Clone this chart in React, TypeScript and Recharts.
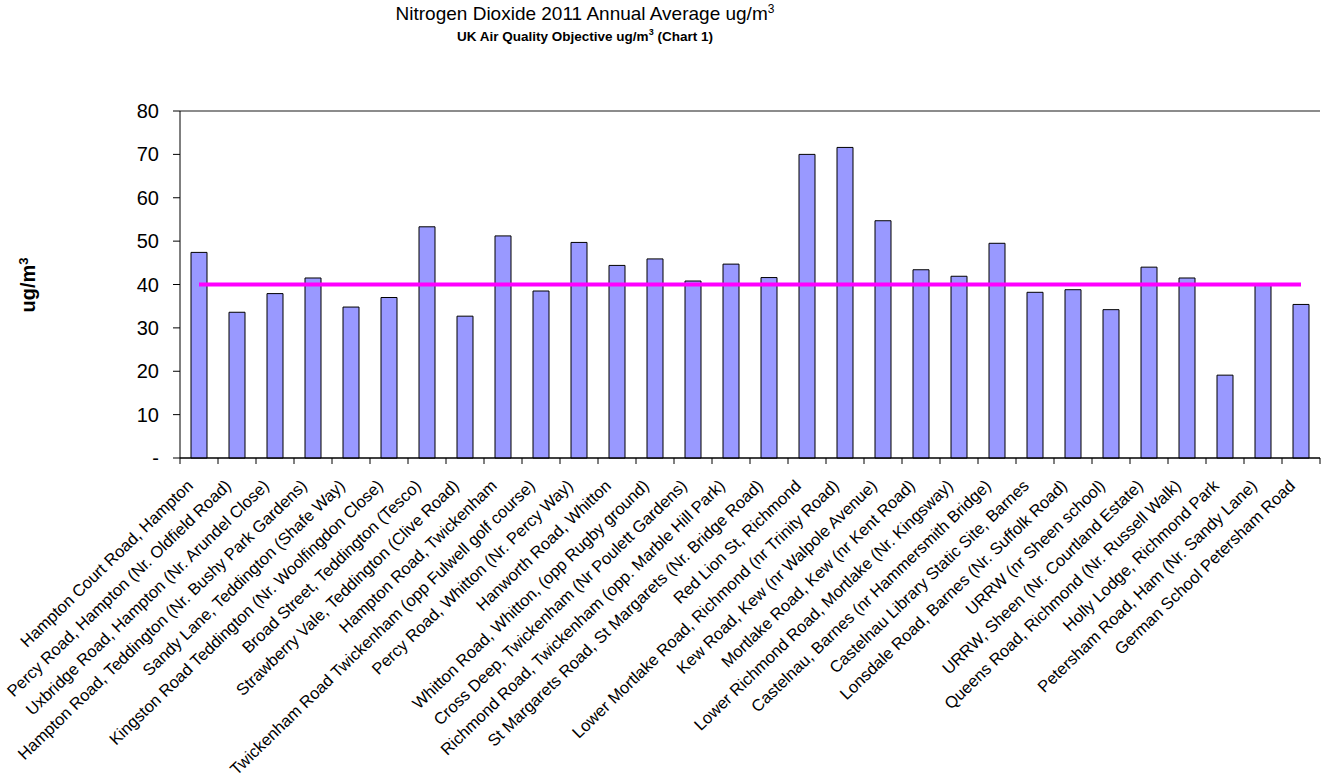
import React from "react"
import { Bar, CartesianGrid, ComposedChart, Line, ReferenceLine, XAxis, YAxis } from "recharts"

// monitoring sites, left to right
const sites = [
  "Hampton Court Road, Hampton",
  "Percy Road, Hampton (Nr. Oldfield Road)",
  "Uxbridge Road, Hampton (Nr. Arundel Close)",
  "Hampton Road, Teddington (Nr. Bushy Park Gardens)",
  "Sandy Lane, Teddington (Shafe Way)",
  "Kingston Road Teddington (Nr. Woolfingdon Close)",
  "Broad Street, Teddington (Tesco)",
  "Strawberry Vale, Teddington (Clive Road)",
  "Hampton Road, Twickenham",
  "Twickenham Road Twickenham (opp Fulwell golf course)",
  "Percy Road, Whitton (Nr. Percy Way)",
  "Hanworth Road, Whitton",
  "Whitton Road, Whitton, (opp Rugby ground)",
  "Cross Deep, Twickenham (Nr Poulett Gardens)",
  "Richmond Road, Twickenham (opp. Marble Hill Park)",
  "St Margarets Road, St Margarets (Nr. Bridge Road)",
  "Red Lion St, Richmond",
  "Lower Mortlake Road, Richmond (nr Trinity Road)",
  "Kew Road, Kew (nr Walpole Avenue)",
  "Mortlake Road, Kew (nr Kent Road)",
  "Lower Richmond Road, Mortlake (Nr. Kingsway)",
  "Castelnau, Barnes (nr Hammersmith Bridge)",
  "Castelnau Library Static Site, Barnes",
  "Lonsdale Road, Barnes (Nr. Suffolk Road)",
  "URRW (nr Sheen school)",
  "URRW, Sheen (Nr. Courtland Estate)",
  "Queens Road, Richmond (Nr. Russell Walk)",
  "Holly Lodge, Richmond Park",
  "Petersham Road, Ham (Nr. Sandy Lane)",
  "German School Petersham Road",
]

// annual average NO2, ug/m3
const no2 = [
  47.4, 33.6, 37.9, 41.5, 34.8, 37.0, 53.3, 32.7, 51.2, 38.5,
  49.7, 44.4, 45.9, 40.8, 44.7, 41.6, 70.0, 71.6, 54.7, 43.4,
  41.9, 49.5, 38.2, 38.8, 34.2, 44.0, 41.5, 19.1, 40.0, 35.4,
]

// UK air quality objective
const objective = 40

const yTicks = [0, 10, 20, 30, 40, 50, 60, 70, 80]

const data = sites.map((name, i) => ({ name, no2: no2[i], objective }))

const W = 1326
const H = 780
const PLOT_LEFT = 180
const PLOT_RIGHT = 1320
const BAND = (PLOT_RIGHT - PLOT_LEFT) / sites.length
const FONT = "'Liberation Sans', Arial, sans-serif"

function SiteTick(props: any) {
  const { x, y, payload, index } = props
  const tx = x - 5
  const ty = y + 29
  return (
    <g>
      <line x1={x - BAND / 2} x2={x - BAND / 2} y1={y} y2={y + 6} stroke="#000" />
      {index === sites.length - 1 && (
        <line x1={x + BAND / 2} x2={x + BAND / 2} y1={y} y2={y + 6} stroke="#000" />
      )}
      <text
        x={tx}
        y={ty}
        transform={`rotate(-44, ${tx}, ${ty})`}
        textAnchor="end"
        fontSize={16.5}
        fontFamily={FONT}
        fill="#000"
      >
        {payload.value}
      </text>
    </g>
  )
}

export default function App() {
  return (
    <div style={{ position: "absolute", left: 0, top: 0, width: W, height: H, background: "#fff", fontFamily: FONT }}>
      <div style={{ position: "absolute", left: 0, width: 1170, top: 2, textAlign: "center", fontSize: 19, color: "#000" }}>
        Nitrogen Dioxide 2011 Annual Average ug/m<sup style={{ fontSize: 12 }}>3</sup>
      </div>
      <div style={{ position: "absolute", left: 0, width: 1170, top: 27, textAlign: "center", fontSize: 13.5, fontWeight: "bold", color: "#000" }}>
        UK Air Quality Objective ug/m<sup style={{ fontSize: 9 }}>3</sup> (Chart 1)
      </div>
      <div
        style={{
          position: "absolute",
          left: 28,
          top: 285,
          transform: "translate(-50%, -50%) rotate(-90deg)",
          fontSize: 20,
          fontWeight: "bold",
          whiteSpace: "nowrap",
          color: "#000",
        }}
      >
        ug/m<sup style={{ fontSize: 13 }}>3</sup>
      </div>
      <ComposedChart width={W} height={H} data={data} margin={{ top: 111, right: 6, left: 0, bottom: 22 }}>
        <CartesianGrid vertical={false} stroke="#000" />
        <XAxis
          dataKey="name"
          interval={0}
          height={300}
          tickLine={false}
          tickSize={0}
          tickMargin={0}
          axisLine={{ stroke: "#000" }}
          tick={<SiteTick />}
        />
        <YAxis
          yAxisId="l"
          width={180}
          domain={[0, 80]}
          ticks={yTicks}
          interval={0}
          tickSize={7}
          tickMargin={14}
          tickLine={{ stroke: "#000" }}
          axisLine={{ stroke: "#000" }}
          tick={{ fontSize: 20, fill: "#000", fontFamily: FONT }}
          tickFormatter={(v) => (v === 0 ? "-" : String(v))}
        />
        <YAxis yAxisId="r" orientation="right" width={0} domain={[0, 80]} tick={false} tickLine={false} axisLine={{ stroke: "#999" }} />
        <ReferenceLine yAxisId="l" y={80} stroke="#999" />
        <Bar yAxisId="l" dataKey="no2" barSize={16} fill="#9999FF" stroke="#000" strokeWidth={1} isAnimationActive={false} />
        <Line
          yAxisId="l"
          type="linear"
          dataKey="objective"
          stroke="#FF00FF"
          strokeWidth={4}
          dot={false}
          activeDot={false}
          isAnimationActive={false}
        />
      </ComposedChart>
    </div>
  )
}
